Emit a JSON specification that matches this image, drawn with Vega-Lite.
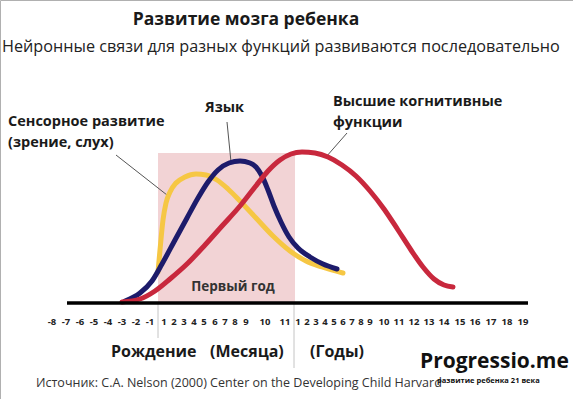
{
  "$schema": "https://vega.github.io/schema/vega-lite/v6.json",
  "width": 573,
  "height": 399,
  "autosize": {"type": "fit", "contains": "padding"},
  "padding": 0,
  "background": "white",
  "config": {"view": {"stroke": "#b0b0b0", "strokeWidth": 1}},
  "datasets": {
    "curves": [
      {"series": "sensory", "x": 158, "y": 31},
      {"series": "sensory", "x": 160, "y": 53},
      {"series": "sensory", "x": 163, "y": 83},
      {"series": "sensory", "x": 166, "y": 100},
      {"series": "sensory", "x": 170, "y": 111},
      {"series": "sensory", "x": 176, "y": 120},
      {"series": "sensory", "x": 185, "y": 126},
      {"series": "sensory", "x": 196, "y": 129},
      {"series": "sensory", "x": 206, "y": 128},
      {"series": "sensory", "x": 217, "y": 123},
      {"series": "sensory", "x": 228, "y": 114},
      {"series": "sensory", "x": 240, "y": 102},
      {"series": "sensory", "x": 256, "y": 85},
      {"series": "sensory", "x": 273, "y": 67},
      {"series": "sensory", "x": 290, "y": 52},
      {"series": "sensory", "x": 306, "y": 42},
      {"series": "sensory", "x": 322, "y": 36},
      {"series": "sensory", "x": 343, "y": 30},
      {"series": "language", "x": 125, "y": 2},
      {"series": "language", "x": 140, "y": 10},
      {"series": "language", "x": 152, "y": 22},
      {"series": "language", "x": 162, "y": 39},
      {"series": "language", "x": 175, "y": 63},
      {"series": "language", "x": 187, "y": 85},
      {"series": "language", "x": 198, "y": 105},
      {"series": "language", "x": 208, "y": 121},
      {"series": "language", "x": 218, "y": 133},
      {"series": "language", "x": 229, "y": 140},
      {"series": "language", "x": 240, "y": 142},
      {"series": "language", "x": 250, "y": 140},
      {"series": "language", "x": 256, "y": 136},
      {"series": "language", "x": 262, "y": 127},
      {"series": "language", "x": 268, "y": 113},
      {"series": "language", "x": 274, "y": 97},
      {"series": "language", "x": 281, "y": 81},
      {"series": "language", "x": 289, "y": 66},
      {"series": "language", "x": 298, "y": 55},
      {"series": "language", "x": 310, "y": 46},
      {"series": "language", "x": 323, "y": 39},
      {"series": "language", "x": 337, "y": 34},
      {"series": "cognitive", "x": 122, "y": 1},
      {"series": "cognitive", "x": 140, "y": 4},
      {"series": "cognitive", "x": 155, "y": 12},
      {"series": "cognitive", "x": 170, "y": 24},
      {"series": "cognitive", "x": 188, "y": 40},
      {"series": "cognitive", "x": 205, "y": 58},
      {"series": "cognitive", "x": 222, "y": 77},
      {"series": "cognitive", "x": 240, "y": 97},
      {"series": "cognitive", "x": 255, "y": 116},
      {"series": "cognitive", "x": 268, "y": 132},
      {"series": "cognitive", "x": 280, "y": 143},
      {"series": "cognitive", "x": 291, "y": 149},
      {"series": "cognitive", "x": 302, "y": 151},
      {"series": "cognitive", "x": 315, "y": 150},
      {"series": "cognitive", "x": 328, "y": 146},
      {"series": "cognitive", "x": 342, "y": 138},
      {"series": "cognitive", "x": 356, "y": 127},
      {"series": "cognitive", "x": 370, "y": 112},
      {"series": "cognitive", "x": 384, "y": 94},
      {"series": "cognitive", "x": 398, "y": 73},
      {"series": "cognitive", "x": 411, "y": 53},
      {"series": "cognitive", "x": 423, "y": 36},
      {"series": "cognitive", "x": 434, "y": 24},
      {"series": "cognitive", "x": 444, "y": 18},
      {"series": "cognitive", "x": 453, "y": 16}
    ],
    "ticks": [
      {"x": 52, "label": "-8"}, {"x": 66, "label": "-7"}, {"x": 80, "label": "-6"}, {"x": 94, "label": "-5"},
      {"x": 108, "label": "-4"}, {"x": 122, "label": "-3"}, {"x": 136, "label": "-2"}, {"x": 150, "label": "-1"},
      {"x": 164, "label": "1"}, {"x": 174, "label": "2"}, {"x": 184, "label": "3"}, {"x": 194, "label": "4"},
      {"x": 204, "label": "5"}, {"x": 215, "label": "6"}, {"x": 225, "label": "7"}, {"x": 235, "label": "8"},
      {"x": 246, "label": "9"}, {"x": 265, "label": "10"}, {"x": 285, "label": "11"},
      {"x": 298, "label": "1"}, {"x": 307, "label": "2"}, {"x": 316, "label": "3"}, {"x": 325, "label": "4"},
      {"x": 334, "label": "5"}, {"x": 343, "label": "6"}, {"x": 352, "label": "7"}, {"x": 361, "label": "8"},
      {"x": 370, "label": "9"}, {"x": 384, "label": "10"}, {"x": 399, "label": "11"}, {"x": 414, "label": "12"},
      {"x": 429, "label": "13"}, {"x": 444, "label": "14"}, {"x": 460, "label": "15"}, {"x": 475, "label": "16"},
      {"x": 491, "label": "17"}, {"x": 507, "label": "18"}, {"x": 523, "label": "19"}
    ],
    "texts": [
      {"role": "title", "x": 246, "y": 283, "text": "Развитие мозга ребенка"},
      {"role": "subtitle", "x": 2, "y": 256, "text": "Нейронные связи для разных функций развиваются последовательно"},
      {"role": "annot", "x": 8, "y": 181, "text": "Сенсорное развитие"},
      {"role": "annot", "x": 8, "y": 160, "text": "(зрение, слух)"},
      {"role": "annot", "x": 205, "y": 195, "text": "Язык"},
      {"role": "annot", "x": 333, "y": 201, "text": "Высшие когнитивные"},
      {"role": "annot", "x": 333, "y": 180, "text": "функции"},
      {"role": "first", "x": 233, "y": 16, "text": "Первый год"},
      {"role": "bottom", "x": 111, "y": -49, "text": "Рождение"},
      {"role": "bottom", "x": 210, "y": -49, "text": "(Месяца)"},
      {"role": "bottom", "x": 310, "y": -49, "text": "(Годы)"},
      {"role": "source", "x": 36, "y": -80, "text": "Источник: C.A. Nelson (2000) Center on the Developing Child Harvard"},
      {"role": "brand", "x": 420, "y": -59, "text": "Progressio.me"},
      {"role": "brandsub", "x": 437, "y": -78, "text": "развитие ребенка 21 века"}
    ],
    "zone": [{"x": 158, "x2": 295, "y": 0, "y2": 150}],
    "baseline": [{"x": 67, "x2": 528, "y": 0}],
    "separators": [{"x": 158, "y": 0, "y2": -35}, {"x": 294, "y": 0, "y2": -65}],
    "pointers": [
      {"x": 116, "y": 148, "x2": 167, "y2": 108},
      {"x": 227, "y": 181, "x2": 231, "y2": 141},
      {"x": 347, "y": 170, "x2": 326, "y2": 146}
    ]
  },
  "layer": [
    {
      "data": {"name": "zone"},
      "mark": {"type": "rect", "color": "#f2d3d5"},
      "encoding": {
        "x": {"field": "x", "type": "quantitative", "scale": {"domain": [0, 573]}, "axis": null},
        "x2": {"field": "x2"},
        "y": {"field": "y", "type": "quantitative", "scale": {"domain": [-96, 303]}, "axis": null},
        "y2": {"field": "y2"}
      }
    },
    {
      "data": {"name": "separators"},
      "mark": {"type": "rule", "color": "#c4c4c4", "strokeWidth": 1},
      "encoding": {
        "x": {"field": "x", "type": "quantitative", "scale": {"domain": [0, 573]}, "axis": null},
        "y": {"field": "y", "type": "quantitative", "scale": {"domain": [-96, 303]}, "axis": null},
        "y2": {"field": "y2"}
      }
    },
    {
      "data": {"name": "pointers"},
      "mark": {"type": "rule", "color": "#555555", "strokeWidth": 1},
      "encoding": {
        "x": {"field": "x", "type": "quantitative", "scale": {"domain": [0, 573]}, "axis": null},
        "x2": {"field": "x2"},
        "y": {"field": "y", "type": "quantitative", "scale": {"domain": [-96, 303]}, "axis": null},
        "y2": {"field": "y2"}
      }
    },
    {
      "data": {"name": "curves"},
      "transform": [{"filter": "datum.series === 'sensory'"}],
      "mark": {"type": "line", "color": "#f6c744", "strokeWidth": 5, "interpolate": "monotone", "strokeCap": "round"},
      "encoding": {
        "x": {"field": "x", "type": "quantitative", "scale": {"domain": [0, 573]}, "axis": null},
        "y": {"field": "y", "type": "quantitative", "scale": {"domain": [-96, 303]}, "axis": null}
      }
    },
    {
      "data": {"name": "curves"},
      "transform": [{"filter": "datum.series === 'language'"}],
      "mark": {"type": "line", "color": "#1d1b6b", "strokeWidth": 5, "interpolate": "monotone", "strokeCap": "round"},
      "encoding": {
        "x": {"field": "x", "type": "quantitative", "scale": {"domain": [0, 573]}, "axis": null},
        "y": {"field": "y", "type": "quantitative", "scale": {"domain": [-96, 303]}, "axis": null}
      }
    },
    {
      "data": {"name": "curves"},
      "transform": [{"filter": "datum.series === 'cognitive'"}],
      "mark": {"type": "line", "color": "#c8283d", "strokeWidth": 5, "interpolate": "monotone", "strokeCap": "round"},
      "encoding": {
        "x": {"field": "x", "type": "quantitative", "scale": {"domain": [0, 573]}, "axis": null},
        "y": {"field": "y", "type": "quantitative", "scale": {"domain": [-96, 303]}, "axis": null}
      }
    },
    {
      "data": {"name": "baseline"},
      "mark": {"type": "rule", "color": "#000000", "strokeWidth": 3.5},
      "encoding": {
        "x": {"field": "x", "type": "quantitative", "scale": {"domain": [0, 573]}, "axis": null},
        "x2": {"field": "x2"},
        "y": {"field": "y", "type": "quantitative", "scale": {"domain": [-96, 303]}, "axis": null}
      }
    },
    {
      "data": {"name": "ticks"},
      "mark": {"type": "text", "font": "Open Sans", "fontWeight": "bold", "fontSize": 9.5, "color": "#222222", "align": "center", "baseline": "middle"},
      "encoding": {
        "x": {"field": "x", "type": "quantitative", "scale": {"domain": [0, 573]}, "axis": null},
        "y": {"datum": -19, "type": "quantitative", "scale": {"domain": [-96, 303]}, "axis": null},
        "text": {"field": "label"}
      }
    },
    {
      "data": {"name": "texts"},
      "transform": [{"filter": "datum.role === 'title'"}],
      "mark": {"type": "text", "font": "Open Sans", "fontWeight": "bold", "fontSize": 17.5, "color": "#1a1a1a", "align": "center", "baseline": "middle"},
      "encoding": {
        "x": {"field": "x", "type": "quantitative", "scale": {"domain": [0, 573]}, "axis": null},
        "y": {"field": "y", "type": "quantitative", "scale": {"domain": [-96, 303]}, "axis": null},
        "text": {"field": "text"}
      }
    },
    {
      "data": {"name": "texts"},
      "transform": [{"filter": "datum.role === 'subtitle'"}],
      "mark": {"type": "text", "font": "Open Sans", "fontSize": 16.2, "color": "#222222", "align": "left", "baseline": "middle"},
      "encoding": {
        "x": {"field": "x", "type": "quantitative", "scale": {"domain": [0, 573]}, "axis": null},
        "y": {"field": "y", "type": "quantitative", "scale": {"domain": [-96, 303]}, "axis": null},
        "text": {"field": "text"}
      }
    },
    {
      "data": {"name": "texts"},
      "transform": [{"filter": "datum.role === 'annot'"}],
      "mark": {"type": "text", "font": "Open Sans", "fontWeight": "bold", "fontSize": 14.5, "color": "#1a1a1a", "align": "left", "baseline": "middle"},
      "encoding": {
        "x": {"field": "x", "type": "quantitative", "scale": {"domain": [0, 573]}, "axis": null},
        "y": {"field": "y", "type": "quantitative", "scale": {"domain": [-96, 303]}, "axis": null},
        "text": {"field": "text"}
      }
    },
    {
      "data": {"name": "texts"},
      "transform": [{"filter": "datum.role === 'first'"}],
      "mark": {"type": "text", "font": "Open Sans", "fontWeight": "bold", "fontSize": 13.5, "color": "#333333", "align": "center", "baseline": "middle"},
      "encoding": {
        "x": {"field": "x", "type": "quantitative", "scale": {"domain": [0, 573]}, "axis": null},
        "y": {"field": "y", "type": "quantitative", "scale": {"domain": [-96, 303]}, "axis": null},
        "text": {"field": "text"}
      }
    },
    {
      "data": {"name": "texts"},
      "transform": [{"filter": "datum.role === 'bottom'"}],
      "mark": {"type": "text", "font": "Open Sans", "fontWeight": "bold", "fontSize": 16, "color": "#1a1a1a", "align": "left", "baseline": "middle"},
      "encoding": {
        "x": {"field": "x", "type": "quantitative", "scale": {"domain": [0, 573]}, "axis": null},
        "y": {"field": "y", "type": "quantitative", "scale": {"domain": [-96, 303]}, "axis": null},
        "text": {"field": "text"}
      }
    },
    {
      "data": {"name": "texts"},
      "transform": [{"filter": "datum.role === 'source'"}],
      "mark": {"type": "text", "font": "Open Sans", "fontSize": 12.5, "color": "#333333", "align": "left", "baseline": "middle"},
      "encoding": {
        "x": {"field": "x", "type": "quantitative", "scale": {"domain": [0, 573]}, "axis": null},
        "y": {"field": "y", "type": "quantitative", "scale": {"domain": [-96, 303]}, "axis": null},
        "text": {"field": "text"}
      }
    },
    {
      "data": {"name": "texts"},
      "transform": [{"filter": "datum.role === 'brand'"}],
      "mark": {"type": "text", "font": "Open Sans", "fontWeight": "bold", "fontSize": 21, "color": "#111111", "align": "left", "baseline": "middle"},
      "encoding": {
        "x": {"field": "x", "type": "quantitative", "scale": {"domain": [0, 573]}, "axis": null},
        "y": {"field": "y", "type": "quantitative", "scale": {"domain": [-96, 303]}, "axis": null},
        "text": {"field": "text"}
      }
    },
    {
      "data": {"name": "texts"},
      "transform": [{"filter": "datum.role === 'brandsub'"}],
      "mark": {"type": "text", "font": "Open Sans", "fontWeight": "bold", "fontSize": 7.5, "color": "#111111", "align": "left", "baseline": "middle"},
      "encoding": {
        "x": {"field": "x", "type": "quantitative", "scale": {"domain": [0, 573]}, "axis": null},
        "y": {"field": "y", "type": "quantitative", "scale": {"domain": [-96, 303]}, "axis": null},
        "text": {"field": "text"}
      }
    }
  ]
}
